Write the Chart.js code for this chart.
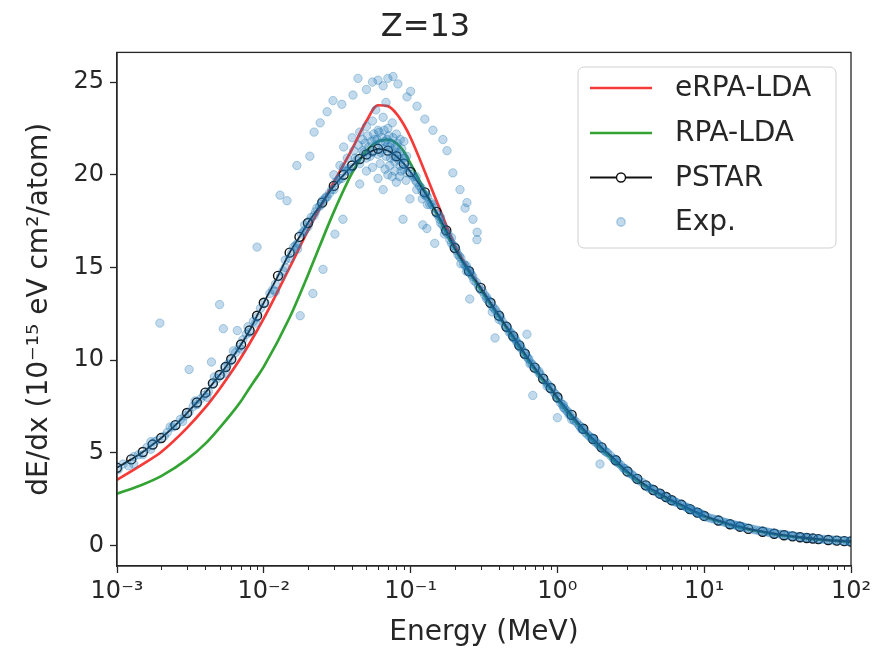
<!DOCTYPE html>
<html>
<head>
<meta charset="utf-8">
<script src="https://cdn.jsdelivr.net/npm/chart.js@4.4.0/dist/chart.umd.min.js"></script>
<style>
  html, body { margin: 0; padding: 0; background: #fff; }
  #wrap { width: 878px; height: 652px; position: relative; }
</style>
</head>
<body>
<div id="wrap"><canvas id="stopping"></canvas></div>
<script>
// energies (MeV) for the two model curves
const energies = [0.001, 0.0015, 0.002, 0.003, 0.004, 0.005, 0.006, 0.007, 0.008, 0.009,
  0.01, 0.015, 0.02, 0.03, 0.04, 0.05, 0.06, 0.07, 0.08, 0.09,
  0.1, 0.15, 0.2, 0.3, 0.4, 0.5, 0.6, 0.7, 0.8, 0.9,
  1, 1.5, 2, 3, 4, 5, 6, 7, 8, 9,
  10, 15, 20, 30, 40, 50, 60, 70, 80, 90, 100];

const erpaLda = [3.55, 4.4, 5.05, 6.35, 7.45, 8.45, 9.35, 10.15, 10.9, 11.6,
  12.25, 15.0, 17.0, 19.6, 21.4, 22.9, 23.75, 23.7, 23.3, 22.7,
  22.0, 18.6, 16.2, 13.9, 12.4, 11.25, 10.3, 9.55, 8.95, 8.5,
  7.95, 6.25, 5.25, 3.95, 3.2, 2.75, 2.42, 2.17, 1.95, 1.76,
  1.58, 1.14, 0.89, 0.63, 0.49, 0.4, 0.34, 0.3, 0.26, 0.24, 0.21];

const rpaLda = [2.8, 3.3, 3.75, 4.65, 5.5, 6.35, 7.1, 7.8, 8.5, 9.1,
  9.65, 12.3, 14.6, 18.0, 20.1, 21.3, 21.8, 21.9, 21.7, 21.25,
  20.6, 17.9, 16.0, 13.8, 12.35, 11.2, 10.25, 9.5, 8.9, 8.45,
  7.9, 6.2, 5.2, 3.92, 3.18, 2.73, 2.4, 2.15, 1.93, 1.75,
  1.57, 1.13, 0.88, 0.62, 0.48, 0.39, 0.33, 0.29, 0.26, 0.23, 0.2];

// PSTAR table energies (MeV) and values
const pstarEnergy = [0.001, 0.00125, 0.0015, 0.00175, 0.002, 0.0025, 0.003, 0.0035, 0.004, 0.0045, 0.005, 0.0055, 0.006, 0.007, 0.008, 0.009,
  0.01, 0.0125, 0.015, 0.0175, 0.02, 0.025, 0.03, 0.035, 0.04, 0.045, 0.05, 0.055, 0.06, 0.07, 0.08, 0.09,
  0.1, 0.125, 0.15, 0.175, 0.2, 0.25, 0.3, 0.35, 0.4, 0.45, 0.5, 0.55, 0.6, 0.7, 0.8, 0.9,
  1, 1.25, 1.5, 1.75, 2, 2.5, 3, 3.5, 4, 4.5, 5, 5.5, 6, 7, 8, 9,
  10, 12.5, 15, 17.5, 20, 25, 30, 35, 40, 45, 50, 55, 60, 70, 80, 90, 100];

const pstar = [4.2, 4.65, 5.05, 5.45, 5.8, 6.5, 7.15, 7.72, 8.25, 8.75, 9.2, 9.63, 10.05, 10.85, 11.6, 12.4,
  13.1, 14.55, 15.8, 16.65, 17.4, 18.5, 19.4, 20.0, 20.5, 20.85, 21.1, 21.3, 21.4, 21.3, 21.0, 20.6,
  20.15, 19.05, 18.0, 17.0, 16.05, 14.8, 13.9, 13.1, 12.4, 11.8, 11.3, 10.8, 10.35, 9.6, 9.0, 8.5,
  8.0, 7.05, 6.3, 5.75, 5.3, 4.6, 4.0, 3.6, 3.25, 3.0, 2.8, 2.62, 2.45, 2.2, 1.97, 1.78,
  1.6, 1.35, 1.15, 1.02, 0.9, 0.75, 0.64, 0.56, 0.5, 0.45, 0.41, 0.38, 0.35, 0.3, 0.27, 0.24, 0.22];

// experimental points [energy MeV, dE/dx]
const expData = [
  [0.00102, 4.1], [0.0011, 4.4], [0.0012, 4.3], [0.0013, 4.8], [0.0014, 4.9], [0.0015, 4.9], [0.0016, 5.3],
  [0.0017, 5.2], [0.0018, 5.6], [0.0019, 5.7], [0.0021, 5.9], [0.0022, 6.1], [0.0024, 6.4], [0.0025, 6.5],
  [0.0027, 6.8], [0.0029, 7.0], [0.0031, 7.2], [0.0033, 7.5], [0.0035, 7.6], [0.0037, 7.9], [0.0039, 8.1],
  [0.0042, 8.3], [0.0045, 8.7], [0.0048, 9.0], [0.0051, 9.2], [0.0054, 9.6], [0.0057, 9.8], [0.006, 10.0],
  [0.0064, 10.4], [0.0068, 10.7], [0.0072, 11.1], [0.0076, 11.4], [0.008, 11.5], [0.0085, 12.1], [0.009, 12.3],
  [0.0095, 12.8], [0.0013, 4.4], [0.0017, 5.6], [0.0023, 6.4], [0.0028, 6.7], [0.0034, 7.8], [0.0041, 8.0],
  [0.0046, 9.1], [0.0055, 9.3], [0.0062, 10.5], [0.007, 10.6], [0.0078, 11.8], [0.0088, 12.0],
  [0.00196, 12.0], [0.0031, 9.5], [0.005, 13.0], [0.0053, 11.7], [0.009, 16.1], [0.0044, 9.9], [0.0066, 11.6],
  [0.0102, 13.1], [0.011, 13.6], [0.012, 14.1], [0.013, 14.5], [0.014, 15.0], [0.015, 15.5], [0.016, 16.1],
  [0.017, 16.3], [0.018, 16.8], [0.019, 17.0], [0.02, 17.2], [0.021, 17.7], [0.022, 17.8], [0.024, 18.3],
  [0.025, 18.6], [0.026, 18.7], [0.028, 19.0], [0.03, 19.2], [0.032, 19.7], [0.034, 19.8], [0.036, 20.2],
  [0.038, 20.3], [0.04, 20.4], [0.043, 20.8], [0.045, 20.6], [0.048, 21.2], [0.05, 20.9], [0.052, 21.5],
  [0.055, 21.2], [0.058, 21.6], [0.06, 21.1], [0.062, 21.7], [0.065, 21.4], [0.068, 21.0], [0.07, 21.6],
  [0.073, 20.9], [0.075, 21.3], [0.078, 20.7], [0.08, 21.2], [0.085, 20.5], [0.088, 20.9], [0.09, 20.3],
  [0.095, 20.1], [0.012, 13.7], [0.014, 15.4], [0.017, 16.0], [0.019, 17.3], [0.023, 18.2], [0.027, 18.8],
  [0.031, 19.6], [0.035, 20.4], [0.042, 20.9], [0.047, 21.3], [0.053, 21.0], [0.057, 21.9], [0.063, 21.2],
  [0.067, 21.8], [0.072, 21.5], [0.077, 21.0], [0.083, 20.8], [0.092, 20.6],
  [0.0115, 13.8], [0.0135, 14.8], [0.0155, 15.8], [0.0165, 16.2], [0.0185, 16.9], [0.0205, 17.5],
  [0.0225, 18.0], [0.0245, 18.4], [0.0265, 18.8], [0.029, 19.2], [0.033, 19.8], [0.037, 20.2],
  [0.035, 21.5], [0.04, 22.0], [0.045, 22.3], [0.05, 22.6], [0.055, 22.9], [0.06, 22.4], [0.065, 23.1],
  [0.07, 22.5], [0.075, 22.8], [0.08, 22.2], [0.085, 21.9], [0.09, 21.8], [0.05, 20.2], [0.06, 19.8],
  [0.07, 20.0], [0.08, 19.6], [0.058, 23.5], [0.068, 23.9], [0.045, 19.5], [0.065, 19.2], [0.075, 19.9],
  [0.03, 20.0], [0.033, 20.5], [0.037, 20.9], [0.041, 21.3], [0.044, 21.6], [0.047, 21.9], [0.049, 21.7],
  [0.051, 22.1], [0.054, 21.8], [0.056, 22.2], [0.059, 21.9], [0.061, 22.3], [0.064, 22.0], [0.066, 22.4],
  [0.069, 21.9], [0.071, 22.1], [0.074, 21.7], [0.076, 22.0], [0.079, 21.5], [0.081, 21.7], [0.084, 21.2],
  [0.087, 21.4], [0.091, 20.9], [0.094, 21.0], [0.097, 20.4], [0.055, 20.4], [0.062, 20.6], [0.067, 20.3],
  [0.072, 20.5], [0.078, 20.2], [0.084, 19.9], [0.086, 20.2], [0.093, 19.7],
  [0.022, 22.3], [0.0242, 22.8], [0.027, 23.4], [0.0296, 24.0], [0.034, 23.8], [0.0405, 24.3], [0.0438, 25.2],
  [0.05, 24.6], [0.055, 25.0], [0.06, 25.1], [0.065, 24.8], [0.07, 25.2], [0.0759, 25.3], [0.082, 24.9],
  [0.0945, 24.2], [0.1, 24.5], [0.1106, 23.7], [0.125, 23.0], [0.142, 22.4], [0.166, 21.9], [0.177, 21.3],
  [0.194, 20.1], [0.217, 19.2], [0.242, 18.5], [0.266, 17.6], [0.283, 16.5],
  [0.0129, 18.9], [0.0144, 18.6], [0.0168, 20.5], [0.0206, 21.0], [0.0216, 13.6], [0.0253, 14.9],
  [0.0305, 16.8], [0.0346, 17.6], [0.0177, 12.4],
  [0.0888, 17.6], [0.099, 18.7], [0.121, 17.3], [0.129, 17.1], [0.146, 16.3], [0.109, 19.9],
  [0.235, 18.2], [0.284, 16.9], [0.253, 13.3], [0.376, 11.2], [0.68, 8.1], [0.62, 11.4],
  [0.105, 19.9], [0.11, 19.6], [0.115, 19.4], [0.12, 19.1], [0.125, 18.9], [0.13, 18.8], [0.135, 18.4],
  [0.14, 18.4], [0.15, 17.9], [0.155, 17.8], [0.16, 17.4], [0.17, 17.1], [0.18, 16.8], [0.19, 16.3],
  [0.2, 16.1], [0.21, 15.7], [0.22, 15.5], [0.23, 15.2], [0.24, 15.1], [0.25, 14.8], [0.26, 14.6],
  [0.28, 14.2], [0.3, 13.8], [0.32, 13.5], [0.34, 13.2], [0.36, 12.9], [0.38, 12.7], [0.4, 12.4],
  [0.42, 12.1], [0.45, 11.8], [0.48, 11.5], [0.5, 11.2], [0.53, 10.95], [0.56, 10.7], [0.6, 10.35],
  [0.63, 10.1], [0.66, 9.85], [0.7, 9.6], [0.75, 9.3], [0.8, 9.0], [0.85, 8.75], [0.9, 8.5], [0.95, 8.25],
  [0.11, 19.2], [0.13, 18.4], [0.16, 17.7], [0.19, 16.6], [0.22, 15.2], [0.27, 14.3], [0.33, 13.3],
  [0.4, 12.2], [0.47, 11.5], [0.55, 10.8], [0.65, 9.8], [0.75, 9.4], [0.85, 8.6], [0.12, 18.7],
  [0.17, 16.8], [0.24, 14.8], [0.36, 12.6], [0.52, 11.1],
  [0.102, 20.0], [0.108, 19.7], [0.118, 19.3], [0.128, 18.9], [0.138, 18.5], [0.145, 18.2], [0.158, 17.6],
  [0.165, 17.3], [0.175, 16.9], [0.185, 16.5], [0.195, 16.2], [0.205, 15.9], [0.215, 15.6], [0.235, 15.1],
  [0.245, 14.9], [0.255, 14.7], [0.265, 14.5], [0.29, 14.0], [0.31, 13.7], [0.33, 13.4], [0.35, 13.1],
  [0.37, 12.8], [0.39, 12.55], [0.41, 12.3], [0.44, 11.9], [0.46, 11.7], [0.49, 11.4], [0.51, 11.2],
  [0.54, 10.9], [0.57, 10.6], [0.59, 10.45], [0.62, 10.2], [0.64, 10.05], [0.68, 9.75], [0.72, 9.5],
  [0.77, 9.2], [0.82, 8.9], [0.87, 8.65], [0.92, 8.4], [0.97, 8.15],
  [1.0, 7.95], [1.05, 7.7], [1.1, 7.45], [1.15, 7.3], [1.2, 7.05], [1.3, 6.75], [1.4, 6.5], [1.5, 6.25],
  [1.6, 6.0], [1.7, 5.8], [1.8, 5.6], [1.9, 5.45], [2.0, 5.3], [2.2, 5.0], [2.4, 4.7], [2.6, 4.45],
  [2.8, 4.2], [3.0, 4.0], [3.3, 3.75], [3.6, 3.5], [4.0, 3.25], [4.4, 3.05], [4.8, 2.87], [5.2, 2.7],
  [5.6, 2.57], [6.0, 2.45], [6.5, 2.32], [7.0, 2.2], [7.5, 2.08], [8.0, 1.97], [8.5, 1.88], [9.0, 1.78],
  [9.5, 1.7], [1.1, 7.6], [1.25, 6.8], [1.45, 6.3], [1.75, 5.75], [2.1, 5.1], [2.5, 4.6], [2.9, 4.15],
  [3.5, 3.6], [4.2, 3.1], [5.0, 2.8], [6.2, 2.4], [7.8, 2.0], [9.2, 1.75], [1.0, 6.9], [1.95, 4.4],
  [1.02, 7.9], [1.08, 7.6], [1.12, 7.4], [1.18, 7.2], [1.22, 7.1], [1.28, 6.85], [1.35, 6.65], [1.42, 6.45],
  [1.48, 6.3], [1.55, 6.1], [1.65, 5.9], [1.72, 5.8], [1.85, 5.55], [1.92, 5.4], [2.05, 5.2], [2.15, 5.05],
  [2.3, 4.85], [2.45, 4.65], [2.55, 4.5], [2.7, 4.35], [2.85, 4.15], [3.1, 3.9], [3.2, 3.85], [3.4, 3.65],
  [3.8, 3.4], [4.1, 3.2], [4.3, 3.1], [4.6, 2.95], [4.9, 2.82], [5.4, 2.65], [5.8, 2.52], [6.3, 2.37],
  [6.8, 2.25], [7.2, 2.15], [7.7, 2.04], [8.2, 1.93], [8.8, 1.82], [9.4, 1.72], [9.8, 1.65],
  [10, 1.58], [11, 1.48], [12, 1.4], [13, 1.32], [14, 1.24], [15, 1.17], [16, 1.12], [17, 1.07],
  [18, 1.02], [19, 0.98], [21, 0.9], [23, 0.83], [25, 0.78], [27, 0.73], [29, 0.68], [31, 0.65],
  [34, 0.6], [37, 0.56], [40, 0.52], [44, 0.48], [48, 0.44], [52, 0.41], [57, 0.38], [62, 0.35],
  [68, 0.32], [75, 0.3], [82, 0.28], [90, 0.25], [97, 0.23],
  [10.5, 1.53], [11.5, 1.44], [12.5, 1.36], [13.5, 1.28], [14.5, 1.21], [15.5, 1.14], [16.5, 1.09],
  [17.5, 1.04], [18.5, 1.0], [20, 0.94], [22, 0.86], [24, 0.8], [26, 0.75], [28, 0.7], [30, 0.66],
  [33, 0.61], [36, 0.57], [39, 0.53], [42, 0.5], [46, 0.46], [50, 0.43], [55, 0.39], [60, 0.36],
  [65, 0.34], [72, 0.31], [78, 0.29], [86, 0.27], [94, 0.24], [99, 0.23]
];

const seriesLabels = ['eRPA-LDA', 'RPA-LDA', 'PSTAR', 'Exp.'];
const xTickValues = [0.001, 0.01, 0.1, 1, 10, 100];
const xTickLabels = ['10\u207B\u00B3', '10\u207B\u00B2', '10\u207B\u00B9', '10\u2070', '10\u00B9', '10\u00B2'];
const yTickValues = [0, 5, 10, 15, 20, 25];

const FONT = "'DejaVu Sans', sans-serif";
const INK = '#262626';

function toPoints(xs, ys) {
    return xs.map((e, i) => ({ x: e, y: ys[i] }));
}

// frame on all four sides + minor log ticks, matplotlib style
const framePlugin = {
    id: 'frame',
    afterDatasetsDraw(chart) {
        const { ctx, chartArea: a } = chart;
        const xs = chart.scales.x;
        ctx.save();
        ctx.strokeStyle = INK;
        ctx.lineWidth = 1.3;
        ctx.strokeRect(a.left, a.top, a.right - a.left, a.bottom - a.top);
        ctx.lineWidth = 1;
        for (let d = -3; d < 2; d++) {
            for (let k = 2; k < 10; k++) {
                const px = Math.round(xs.getPixelForValue(k * Math.pow(10, d))) + 0.5;
                ctx.beginPath();
                ctx.moveTo(px, a.bottom);
                ctx.lineTo(px, a.bottom + 4);
                ctx.stroke();
            }
        }
        ctx.restore();
    }
};

// boxed legend in the upper right corner
const boxLegendPlugin = {
    id: 'boxLegend',
    afterDraw(chart) {
        const { ctx } = chart;
        const box = { x: 578, y: 67, w: 258, h: 181 };
        ctx.save();
        ctx.beginPath();
        ctx.roundRect(box.x, box.y, box.w, box.h, 6);
        ctx.fillStyle = 'rgba(255,255,255,0.8)';
        ctx.fill();
        ctx.strokeStyle = '#d0d0d0';
        ctx.lineWidth = 1;
        ctx.stroke();

        const rows = [88, 133, 177.5, 222];
        chart.data.datasets.forEach((ds, i) => {
            const y = rows[i];
            if (ds.showLine === false) {
                ctx.beginPath();
                ctx.arc(621, y, ds.pointRadius, 0, Math.PI * 2);
                ctx.fillStyle = ds.pointBackgroundColor;
                ctx.fill();
                ctx.strokeStyle = ds.pointBorderColor;
                ctx.stroke();
            } else {
                ctx.beginPath();
                ctx.moveTo(590, y);
                ctx.lineTo(652, y);
                ctx.strokeStyle = ds.borderColor;
                ctx.lineWidth = ds.borderWidth;
                ctx.stroke();
                if (ds.pointRadius > 0) {
                    ctx.beginPath();
                    ctx.arc(621, y, ds.pointRadius, 0, Math.PI * 2);
                    ctx.fillStyle = '#fff';
                    ctx.fill();
                    ctx.lineWidth = ds.pointBorderWidth;
                    ctx.strokeStyle = ds.pointBorderColor;
                    ctx.stroke();
                }
            }
            ctx.fillStyle = INK;
            ctx.font = '28px ' + FONT;
            ctx.textBaseline = 'middle';
            ctx.textAlign = 'left';
            ctx.fillText(ds.label, 675, y + 1);
        });
        ctx.restore();
    }
};

const ctxStop = document.getElementById('stopping').getContext('2d');
const stoppingChart = new Chart(ctxStop, {
    type: 'line',
    data: {
        datasets: [
            {
                label: seriesLabels[0],
                data: toPoints(energies, erpaLda),
                borderColor: '#f53a38',
                borderWidth: 2.7,
                pointRadius: 0,
                cubicInterpolationMode: 'monotone',
                order: 3
            },
            {
                label: seriesLabels[1],
                data: toPoints(energies, rpaLda),
                borderColor: '#33a433',
                borderWidth: 2.7,
                pointRadius: 0,
                cubicInterpolationMode: 'monotone',
                order: 2
            },
            {
                label: seriesLabels[2],
                data: toPoints(pstarEnergy, pstar),
                borderColor: '#111',
                borderWidth: 1.8,
                pointRadius: 4.5,
                pointBorderWidth: 1.4,
                pointBorderColor: '#111',
                pointBackgroundColor: 'rgba(0,0,0,0)',
                cubicInterpolationMode: 'monotone',
                order: 1
            },
            {
                label: seriesLabels[3],
                data: expData.map(p => ({ x: p[0], y: p[1] })),
                showLine: false,
                pointRadius: 4.2,
                pointBorderWidth: 1,
                pointBackgroundColor: 'rgba(31,119,180,0.27)',
                pointBorderColor: 'rgba(31,119,180,0.33)',
                order: 0
            }
        ]
    },
    options: {
        responsive: true,
        maintainAspectRatio: false,
        animation: false,
        devicePixelRatio: 1,
        layout: { padding: { left: 0, right: 27, top: 0, bottom: 0 } },
        plugins: {
            legend: { display: false },
            tooltip: { enabled: false },
            title: {
                display: true,
                text: 'Z=13',
                color: INK,
                font: { family: FONT, size: 32, weight: 'normal' },
                padding: { top: 8, bottom: 6 }
            }
        },
        scales: {
            x: {
                type: 'logarithmic',
                min: 0.001,
                max: 100,
                afterBuildTicks: (scale) => {
                    scale.ticks = xTickValues.map(v => ({ value: v }));
                },
                afterFit: (scale) => { scale.height = 86; },
                ticks: {
                    color: INK,
                    font: { family: FONT, size: 24 },
                    padding: 4,
                    maxRotation: 0,
                    autoSkip: false,
                    callback: (v, i) => xTickLabels[i]
                },
                grid: { drawOnChartArea: false, tickLength: 7, tickColor: INK, tickWidth: 1.3 },
                border: { display: true, color: INK, width: 1.3 },
                title: {
                    display: true,
                    text: 'Energy (MeV)',
                    color: INK,
                    font: { family: FONT, size: 28 },
                    padding: { top: 0, bottom: 2 }
                }
            },
            y: {
                type: 'linear',
                min: -1.1,
                max: 26.6,
                afterBuildTicks: (scale) => {
                    scale.ticks = yTickValues.map(v => ({ value: v }));
                },
                afterFit: (scale) => { scale.width = 117; },
                ticks: {
                    color: INK,
                    font: { family: FONT, size: 24 },
                    padding: 6
                },
                grid: { drawOnChartArea: false, tickLength: 7, tickColor: INK, tickWidth: 1.3 },
                border: { display: true, color: INK, width: 1.3 },
                title: {
                    display: true,
                    text: 'dE/dx (10\u207B\u00B9\u2075 eV cm\u00B2/atom)',
                    color: INK,
                    font: { family: FONT, size: 28 },
                    padding: { top: 23, bottom: 0 }
                }
            }
        }
    },
    plugins: [framePlugin, boxLegendPlugin]
});
</script>
</body>
</html>
